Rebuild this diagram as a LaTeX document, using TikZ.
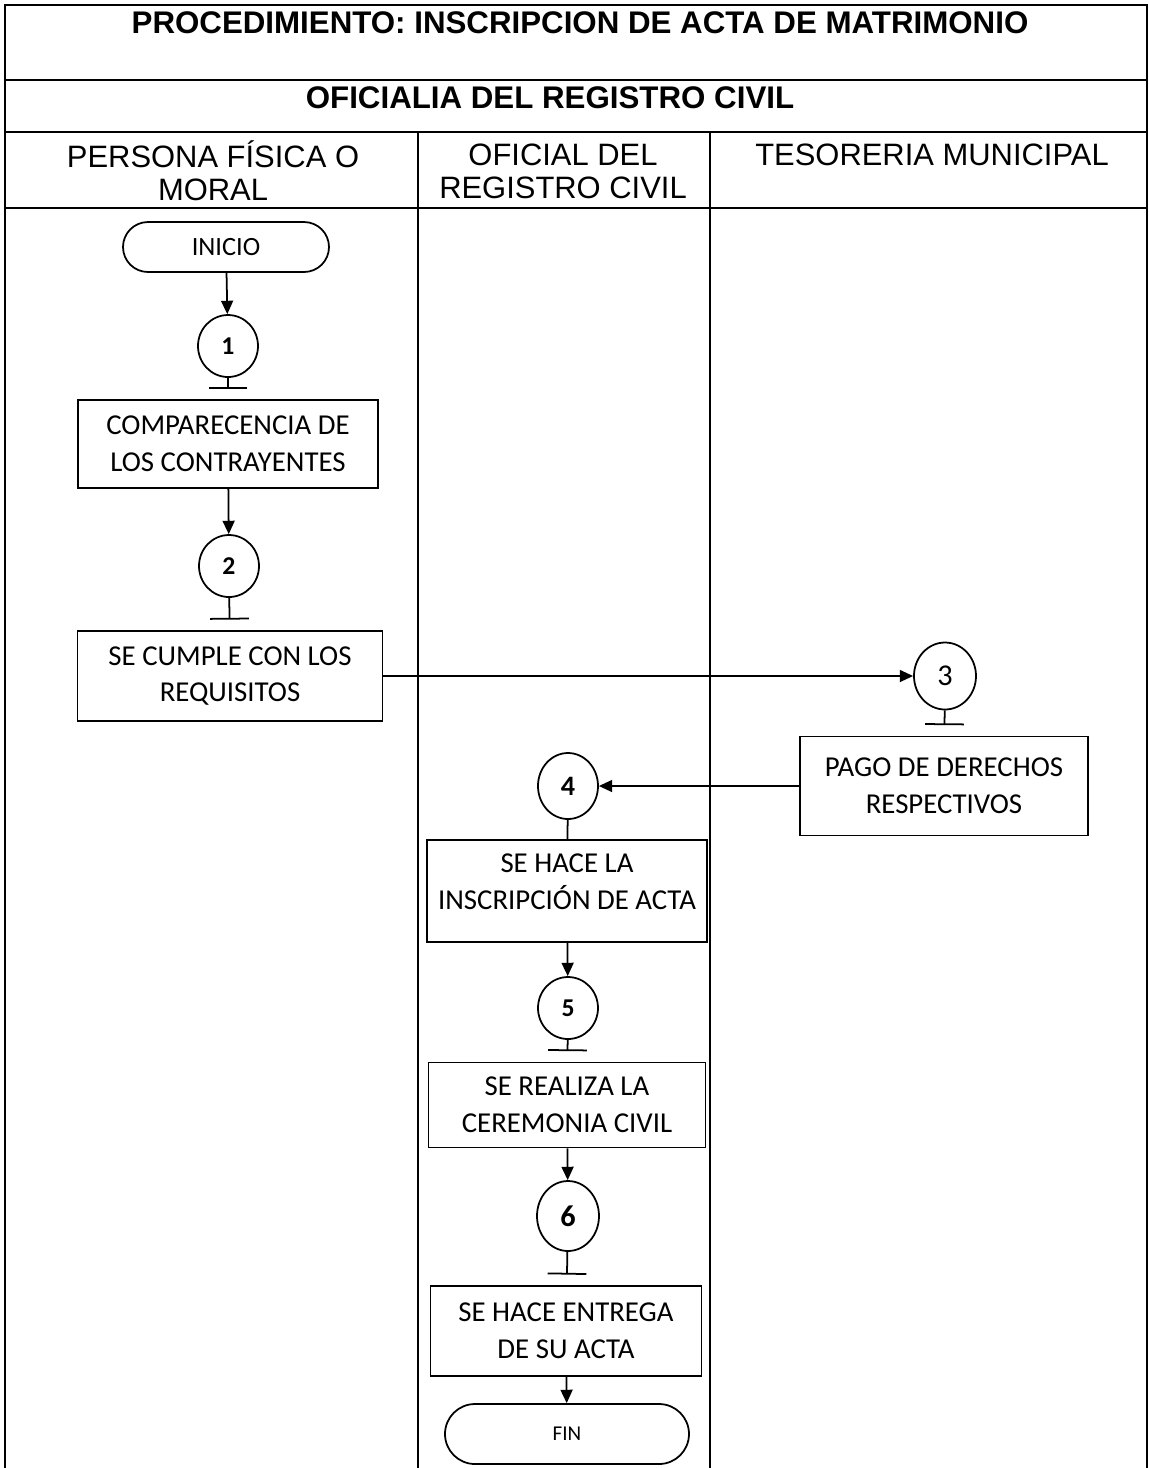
\documentclass[tikz,border=0pt]{standalone}
\usepackage{fontspec}
\setmainfont{Liberation Sans}
\newfontfamily\calibri{Carlito}
\usetikzlibrary{arrows.meta,shapes.geometric,shapes.misc}

\begin{document}
\begin{tikzpicture}[line width=0.5pt,
  caja/.style={draw,rectangle,align=center,inner sep=0pt,font=\calibri\fontsize{8.2}{10.5}\selectfont},
  paso/.style={draw,ellipse,inner sep=0pt,minimum width=0.6cm,minimum height=0.62cm,font=\calibri\bfseries\fontsize{7.3}{8}\selectfont},
  terminal/.style={draw,rounded rectangle,inner sep=0pt,font=\calibri\fontsize{7.5}{8}\selectfont},
  flecha/.style={-{Triangle[length=3.8pt,width=3.4pt]}},
  barra/.style={-{Bar[width=11pt]},shorten >=3pt},
  encabezado/.style={align=center,font=\fontsize{8.8}{9.4}\selectfont}]
\useasboundingbox (0,0) rectangle (11.49,-14.68);
\draw (0.05,-14.68)--(0.05,-0.05)--(11.47,-0.05)--(11.47,-14.68);
\draw (0.05,-0.80)--(11.47,-0.80) (0.05,-1.32)--(11.47,-1.32) (0.05,-2.08)--(11.47,-2.08);
\draw (4.18,-1.32)--(4.18,-14.68) (7.10,-1.32)--(7.10,-14.68);
\node (titulo) at (5.80,-0.23) [font=\bfseries\fontsize{8.9}{9}\selectfont]{PROCEDIMIENTO: INSCRIPCION DE ACTA DE MATRIMONIO};
\node (oficialia) at (5.50,-0.98) [font=\bfseries\fontsize{8.9}{9}\selectfont]{OFICIALIA DEL REGISTRO CIVIL};
\node (persona) at (2.13,-1.71) [encabezado]{PERSONA FÍSICA O\\MORAL};
\node (oficial) at (5.63,-1.71) [encabezado]{OFICIAL DEL\\REGISTRO CIVIL};
\node (tesoreria) at (9.32,-1.55) [encabezado]{TESORERIA MUNICIPAL};

\node (inicio) at (2.26,-2.47) [terminal,minimum width=2.06cm,minimum height=0.5cm]{INICIO};
\node (p1) at (2.28,-3.46) [paso]{1};
\node (c1) at (2.28,-4.44) [caja,minimum width=3.0cm,minimum height=0.88cm]{COMPARECENCIA DE\\LOS CONTRAYENTES};
\node (p2) at (2.29,-5.66) [paso]{2};
\node (c2) at (2.30,-6.76) [caja,minimum width=3.05cm,minimum height=0.90cm]{SE CUMPLE CON LOS\\REQUISITOS};
\node (p3) at (9.45,-6.76) [paso,minimum width=0.62cm,minimum height=0.67cm,font=\calibri\fontsize{8.6}{9}\selectfont]{3};
\node (c3) at (9.44,-7.86) [caja,minimum width=2.88cm,minimum height=0.99cm]{PAGO DE DERECHOS\\RESPECTIVOS};
\node (p4) at (5.68,-7.86) [paso,minimum height=0.66cm,font=\calibri\bfseries\fontsize{8}{9}\selectfont]{4};
\node (c4) at (5.67,-8.91) [caja,minimum width=2.80cm,minimum height=1.02cm,text depth=5.5pt]{SE HACE LA\\INSCRIPCIÓN DE ACTA};
\node (p5) at (5.68,-10.08) [paso]{5};
\node (c5) at (5.67,-11.05) [caja,minimum width=2.77cm,minimum height=0.85cm]{SE REALIZA LA\\CEREMONIA CIVIL};
\node (p6) at (5.68,-12.16) [paso,minimum width=0.62cm,minimum height=0.70cm,font=\calibri\bfseries\fontsize{8.6}{9}\selectfont]{6};
\node (c6) at (5.66,-13.31) [caja,minimum width=2.71cm,minimum height=0.90cm]{SE HACE ENTREGA\\DE SU ACTA};
\node (fin) at (5.67,-14.34) [terminal,minimum width=2.44cm,minimum height=0.60cm,font=\calibri\fontsize{6}{7}\selectfont]{FIN};

\draw[flecha] (inicio)--(p1);
\draw[barra] (p1)--(c1);
\draw[flecha] (c1)--(p2);
\draw[barra] (p2)--(c2);
\draw[flecha] (c2)--(p3);
\draw[barra] (p3)--(c3);
\draw[flecha] (c3)--(p4);
\draw (p4)--(c4);
\draw[flecha] (c4)--(p5);
\draw[barra] (p5)--(c5);
\draw[flecha] (c5)--(p6);
\draw[barra] (p6)--(c6);
\draw[flecha] (c6)--(fin);
\end{tikzpicture}
\end{document}
